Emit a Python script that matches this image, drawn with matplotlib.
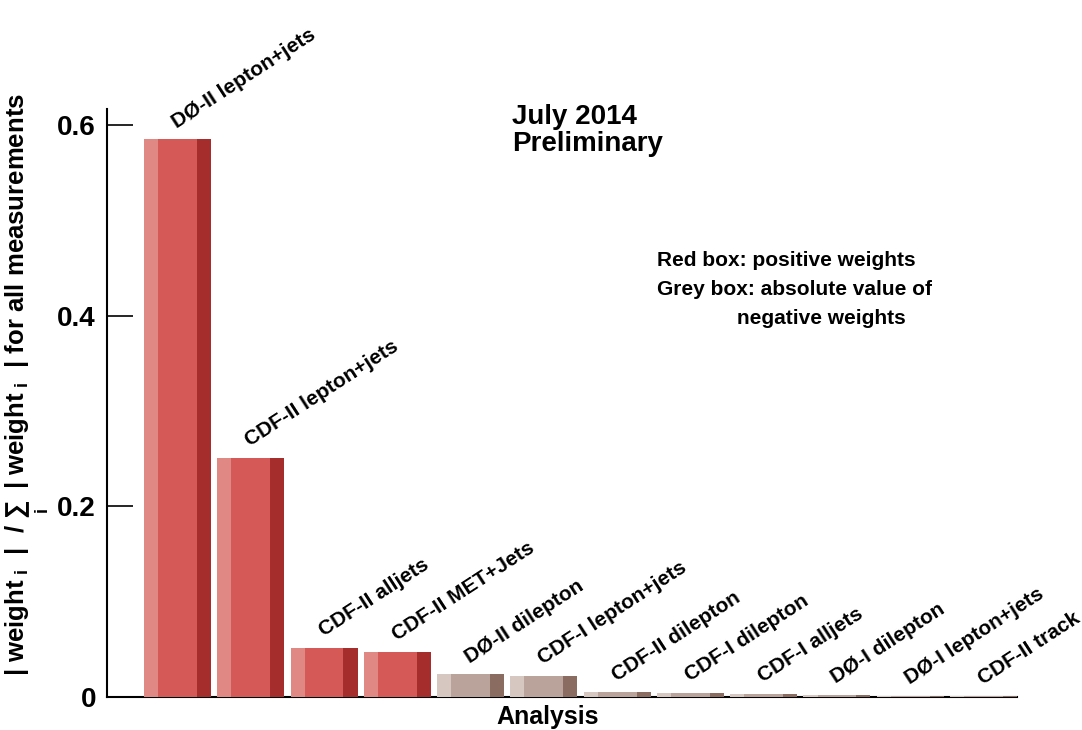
import numpy as np
import matplotlib
matplotlib.use("Agg")
import matplotlib.pyplot as plt

plt.rcParams['font.family'] = ['Liberation Sans', 'DejaVu Sans']
plt.rcParams['font.weight'] = 'bold'
plt.rcParams['mathtext.fontset'] = 'custom'
plt.rcParams['mathtext.rm'] = 'Liberation Sans:bold'
plt.rcParams['mathtext.it'] = 'Liberation Sans:bold'
plt.rcParams['mathtext.bf'] = 'Liberation Sans:bold'

# ---------------------------
# Data
# ---------------------------
analyses = ["DØ-II lepton+jets", "CDF-II lepton+jets", "CDF-II alljets",
            "CDF-II MET+Jets", "DØ-II dilepton", "CDF-I lepton+jets",
            "CDF-II dilepton", "CDF-I dilepton", "CDF-I alljets",
            "DØ-I dilepton", "DØ-I lepton+jets", "CDF-II track"]
abs_weights = [0.585, 0.251, 0.0515, 0.047, 0.0238, 0.0218,
               0.0049, 0.0047, 0.0030, 0.0020, 0.0012, 0.0006]
positive = [True, True, True, True, False, False,
            False, False, False, False, False, False]
yticks = [0, 0.2, 0.4, 0.6]
ytick_labels = ["0", "0.2", "0.4", "0.6"]

# colours: (light, mid, dark) strips
red_cols = ("#e08884", "#d55a57", "#a52d2b")
grey_cols = ("#d6c7c0", "#b9a39a", "#8a6c61")

fig = plt.figure(figsize=(10.82, 7.30), dpi=100)
ax = fig.add_axes([107 / 1082, 1 - 697 / 730, (1017 - 107) / 1082, (697 - 109) / 730])

x = np.arange(len(analyses))
width = 0.914
edge = 0.21 * width

for i, (v, pos) in enumerate(zip(abs_weights, positive)):
    light, mid, dark = red_cols if pos else grey_cols
    left = x[i] - width / 2
    ax.bar(left, v, width=edge, align='edge', color=light, zorder=3)
    ax.bar(left + edge, v, width=width - 2 * edge, align='edge', color=mid, zorder=3)
    ax.bar(left + width - edge, v, width=edge, align='edge', color=dark, zorder=3)
    ax.annotate(analyses[i], (x[i], v), xytext=(-0.5, 8), textcoords='offset points',
                rotation=33, rotation_mode='anchor', ha='left', va='baseline',
                fontsize=15, fontweight='bold')

ax.set_xlim(-0.962, 11.457)
ax.set_ylim(0, 0.617)

for s in ['top', 'right']:
    ax.spines[s].set_visible(False)
ax.spines['left'].set_linewidth(1.5)
ax.spines['bottom'].set_linewidth(1.5)
ax.spines['bottom'].set_zorder(1)

ax.set_xticks([])
ax.set_yticks(yticks)
ax.set_yticklabels(ytick_labels, fontsize=20, fontweight='bold')
ax.tick_params(axis='y', direction='in', length=19, width=1.2, pad=8)

fig.text(548 / 1082, 1 - 724 / 730, "Analysis", ha='center', va='baseline',
         fontsize=18, fontweight='bold')
fig.text(27 / 1082, 1 - 93 / 730,
         r"| weight$_{\,\,i}$  |  / $\sum_{i}$  | weight$_{\,\,i}$  | for all measurements",
         rotation=90, ha='center', va='top', fontsize=18.5, fontweight='bold')

fig.text(512 / 1082, 1 - 124 / 730, "July 2014", fontsize=20, fontweight='bold', va='baseline')
fig.text(512 / 1082, 1 - 151 / 730, "Preliminary", fontsize=20, fontweight='bold', va='baseline')

fig.text(657 / 1082, 1 - 266 / 730, "Red box: positive weights", fontsize=15, fontweight='bold', va='baseline')
fig.text(657 / 1082, 1 - 295 / 730, "Grey box: absolute value of", fontsize=15, fontweight='bold', va='baseline')
fig.text(737 / 1082, 1 - 324 / 730, "negative weights", fontsize=15, fontweight='bold', va='baseline')

fig.savefig("out.png", dpi=100)
